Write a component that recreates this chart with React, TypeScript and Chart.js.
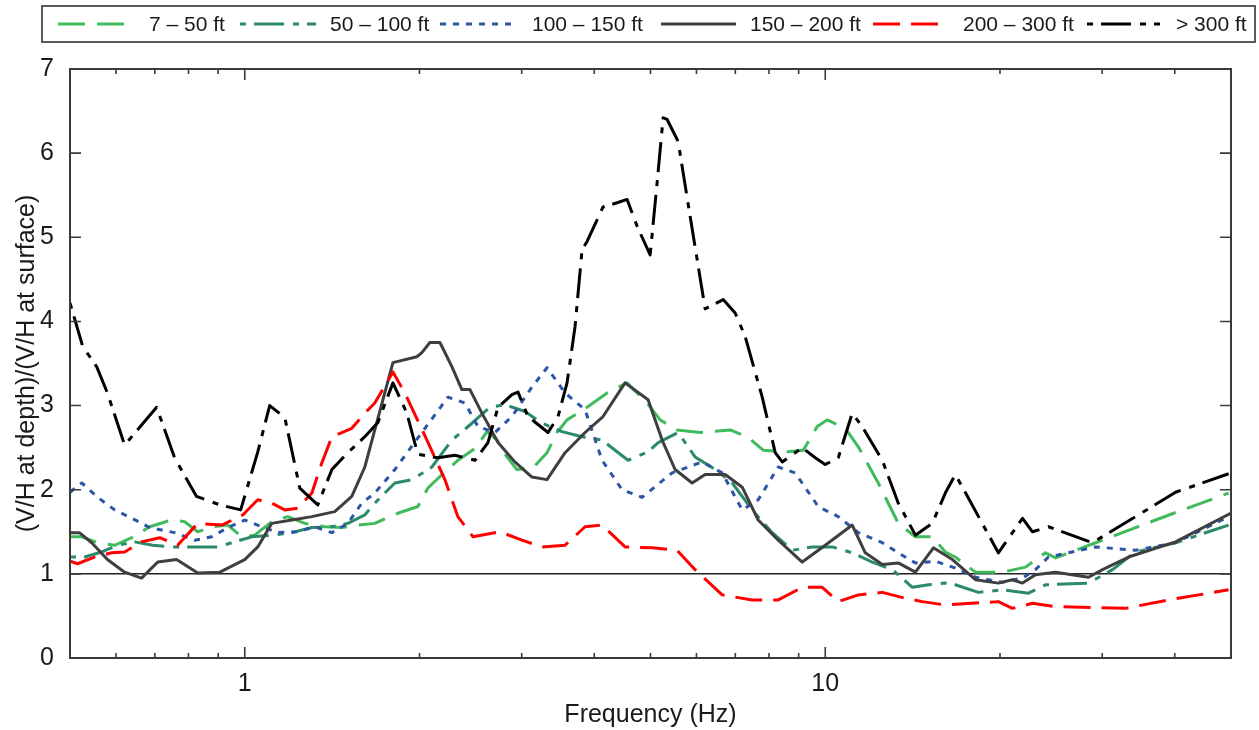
import React, { useEffect, useRef } from "react";
import { Chart, registerables } from "chart.js";

Chart.register(...registerables);

const FONT = "'Liberation Sans', Arial, Helvetica, sans-serif";

const SERIES_LABELS = ["7 – 50 ft", "50 – 100 ft", "100 – 150 ft", "150 – 200 ft", "200 – 300 ft", "> 300 ft"];

const GREEN_F = [0.5, 0.524, 0.558, 0.597, 0.639, 0.686, 0.748, 0.788, 0.83, 0.877, 0.935, 0.988, 1.04, 1.113, 1.186, 1.269, 1.374, 1.47, 1.566, 1.675, 1.835, 1.987, 2.068, 2.186, 2.329, 2.493, 2.614, 2.72, 2.829, 2.944, 3.138, 3.317, 3.451, 3.591, 3.888, 4.209, 4.557, 4.933, 5.195, 5.556, 6.088, 6.859, 7.336, 7.818, 8.601, 9.165, 9.688, 10.08, 10.83, 11.4, 12.34, 13.36, 14.3, 15.29, 16.1, 16.75, 18.14, 20.19, 22.13, 23.95, 24.93, 29.22, 34.24, 41.26, 49.53];
const GREEN_V = [1.44, 1.44, 1.37, 1.34, 1.43, 1.56, 1.64, 1.62, 1.5, 1.56, 1.58, 1.44, 1.46, 1.62, 1.68, 1.6, 1.56, 1.55, 1.58, 1.6, 1.72, 1.8, 2.02, 2.18, 2.35, 2.49, 2.69, 2.59, 2.39, 2.24, 2.26, 2.44, 2.68, 2.83, 2.98, 3.15, 3.27, 3.03, 2.83, 2.71, 2.68, 2.71, 2.63, 2.47, 2.45, 2.47, 2.75, 2.83, 2.73, 2.51, 2.08, 1.6, 1.44, 1.44, 1.26, 1.2, 1.02, 1.02, 1.08, 1.25, 1.19, 1.37, 1.55, 1.76, 1.96];

const TEAL_F = [0.5, 0.53, 0.567, 0.604, 0.646, 0.694, 0.757, 0.83, 0.898, 0.961, 1.028, 1.113, 1.205, 1.305, 1.413, 1.505, 1.61, 1.675, 1.814, 1.941, 2.101, 2.275, 2.463, 2.645, 2.808, 3.039, 3.252, 3.521, 3.811, 4.126, 4.574, 4.953, 5.154, 5.579, 5.968, 6.462, 6.915, 7.484, 8.101, 8.773, 9.497, 10.28, 11.13, 12.05, 13.05, 14.13, 15.06, 16.1, 16.75, 18.36, 20.19, 22.39, 23.95, 28.41, 31.25, 34.24, 40.13, 49.53];
const TEAL_V = [1.2, 1.2, 1.26, 1.34, 1.38, 1.34, 1.32, 1.32, 1.32, 1.38, 1.44, 1.46, 1.49, 1.55, 1.56, 1.6, 1.7, 1.84, 2.08, 2.12, 2.27, 2.59, 2.79, 2.98, 3.01, 2.93, 2.79, 2.69, 2.63, 2.59, 2.35, 2.45, 2.56, 2.68, 2.39, 2.24, 2.08, 1.76, 1.49, 1.28, 1.32, 1.32, 1.25, 1.14, 1.05, 0.84, 0.87, 0.89, 0.87, 0.78, 0.81, 0.77, 0.87, 0.89, 1.05, 1.26, 1.37, 1.58];

const BLUE_F = [0.5, 0.524, 0.558, 0.597, 0.639, 0.686, 0.757, 0.82, 0.877, 0.935, 1.0, 1.07, 1.14, 1.234, 1.32, 1.413, 1.505, 1.591, 1.675, 1.814, 2.019, 2.239, 2.395, 2.522, 2.698, 2.886, 3.124, 3.317, 3.563, 3.857, 4.126, 4.467, 4.836, 5.448, 6.137, 6.644, 7.194, 7.665, 8.299, 8.877, 9.725, 10.53, 11.4, 12.54, 13.58, 14.3, 15.48, 16.75, 18.14, 20.19, 21.87, 23.02, 24.24, 29.22, 34.24, 40.13, 49.53];
const BLUE_V = [1.97, 2.08, 1.91, 1.76, 1.66, 1.55, 1.49, 1.4, 1.44, 1.55, 1.64, 1.56, 1.49, 1.5, 1.56, 1.49, 1.6, 1.84, 1.96, 2.24, 2.68, 3.1, 3.03, 2.75, 2.68, 2.87, 3.22, 3.45, 3.15, 2.95, 2.35, 2.0, 1.91, 2.2, 2.33, 2.2, 1.76, 1.88, 2.27, 2.2, 1.8, 1.68, 1.49, 1.37, 1.22, 1.13, 1.15, 1.07, 0.96, 0.9, 0.95, 1.05, 1.2, 1.32, 1.28, 1.37, 1.68];

const GRAY_F = [0.5, 0.519, 0.545, 0.58, 0.621, 0.664, 0.708, 0.763, 0.83, 0.906, 1.0, 1.053, 1.113, 1.205, 1.305, 1.429, 1.529, 1.61, 1.675, 1.8, 1.979, 2.019, 2.084, 2.169, 2.275, 2.366, 2.443, 2.562, 2.731, 2.92, 3.124, 3.317, 3.563, 3.857, 4.142, 4.52, 4.953, 5.236, 5.512, 5.898, 6.21, 6.724, 7.194, 7.665, 8.299, 9.127, 10.0, 11.13, 11.72, 12.54, 13.36, 14.3, 15.36, 16.56, 18.14, 19.87, 21.01, 21.87, 23.02, 24.93, 28.41, 30.04, 33.3, 40.13, 49.93];
const GRAY_V = [1.49, 1.49, 1.37, 1.17, 1.02, 0.95, 1.14, 1.17, 1.01, 1.02, 1.17, 1.32, 1.6, 1.64, 1.68, 1.74, 1.92, 2.27, 2.71, 3.51, 3.58, 3.63, 3.75, 3.75, 3.46, 3.19, 3.19, 2.91, 2.56, 2.33, 2.15, 2.12, 2.44, 2.68, 2.87, 3.27, 3.07, 2.59, 2.24, 2.08, 2.18, 2.18, 2.03, 1.64, 1.4, 1.14, 1.34, 1.58, 1.25, 1.11, 1.13, 1.02, 1.31, 1.17, 0.93, 0.89, 0.93, 0.89, 0.99, 1.02, 0.96, 1.05, 1.2, 1.38, 1.72];

const RED_F = [0.5, 0.515, 0.551, 0.59, 0.621, 0.664, 0.714, 0.766, 0.83, 0.913, 0.992, 1.053, 1.113, 1.172, 1.234, 1.305, 1.358, 1.413, 1.529, 1.61, 1.675, 1.8, 1.887, 2.06, 2.212, 2.329, 2.473, 2.752, 3.003, 3.252, 3.563, 3.857, 4.126, 4.52, 5.032, 5.556, 5.968, 6.644, 7.484, 8.299, 9.127, 9.881, 10.53, 11.4, 12.54, 13.74, 14.7, 16.1, 19.87, 21.01, 22.75, 24.93, 32.89, 39.03, 49.53];
const RED_V = [1.15, 1.12, 1.2, 1.25, 1.26, 1.38, 1.43, 1.34, 1.6, 1.58, 1.7, 1.88, 1.84, 1.76, 1.78, 1.96, 2.32, 2.63, 2.73, 2.91, 3.03, 3.4, 3.15, 2.59, 2.12, 1.68, 1.44, 1.5, 1.4, 1.32, 1.34, 1.56, 1.58, 1.32, 1.31, 1.28, 1.05, 0.75, 0.69, 0.69, 0.84, 0.84, 0.67, 0.75, 0.78, 0.71, 0.67, 0.63, 0.67, 0.59, 0.65, 0.61, 0.59, 0.69, 0.81];

const BLACK_F = [0.5, 0.526, 0.556, 0.58, 0.621, 0.705, 0.757, 0.826, 0.906, 0.984, 1.053, 1.104, 1.172, 1.244, 1.336, 1.413, 1.505, 1.61, 1.696, 1.8, 1.902, 1.987, 2.151, 2.302, 2.493, 2.624, 2.731, 2.886, 2.956, 3.075, 3.33, 3.465, 3.591, 3.707, 3.811, 3.888, 4.142, 4.38, 4.557, 4.742, 4.993, 5.133, 5.257, 5.341, 5.579, 5.851, 6.21, 6.67, 6.996, 7.279, 7.788, 8.2, 8.432, 9.127, 9.612, 10.0, 10.53, 11.13, 11.58, 12.54, 13.36, 14.3, 15.29, 16.1, 16.75, 17.23, 19.87, 21.87, 22.75, 24.24, 28.86, 34.24, 40.13, 49.53];
const BLACK_V = [4.22, 3.7, 3.46, 3.15, 2.53, 2.98, 2.38, 1.92, 1.82, 1.76, 2.45, 3.0, 2.86, 2.02, 1.82, 2.24, 2.44, 2.63, 2.8, 3.27, 2.91, 2.42, 2.38, 2.41, 2.35, 2.56, 2.98, 3.13, 3.16, 2.87, 2.68, 2.87, 3.27, 3.94, 4.85, 4.95, 5.36, 5.41, 5.45, 5.13, 4.79, 5.65, 6.42, 6.4, 6.14, 5.25, 4.15, 4.26, 4.1, 3.82, 3.1, 2.44, 2.33, 2.5, 2.38, 2.3, 2.38, 2.91, 2.75, 2.35, 1.84, 1.46, 1.6, 1.96, 2.18, 2.03, 1.25, 1.66, 1.5, 1.56, 1.37, 1.68, 1.97, 2.19];

const REF_F = [0.5, 50];
const REF_V = [1, 1];

const X_MAJOR = [1, 10];
const X_MINOR = [0.6, 0.7, 0.8, 0.9, 2, 3, 4, 5, 6, 7, 8, 9, 20, 30, 40];
const Y_TICKS = [1, 2, 3, 4, 5, 6];

// legend layout: [line start, line end, text x]
const LEGEND_POS = [
  [58, 124, 149],
  [240, 316, 330],
  [440, 518, 532],
  [661, 736, 750],
  [873, 940, 963],
  [1087, 1160, 1176],
];

function pts(f: number[], v: number[]) {
  const n = Math.min(f.length, v.length);
  const out: { x: number; y: number }[] = [];
  for (let i = 0; i < n; i++) out.push({ x: f[i], y: v[i] });
  return out;
}

const decorPlugin = {
  id: "decor",
  afterDatasetsDraw(chart: any) {
    const { ctx, chartArea: a, scales } = chart;
    const xs = scales.x;
    const ys = scales.y;
    ctx.save();
    ctx.setLineDash([]);
    ctx.strokeStyle = "#3a3a3a";
    ctx.lineWidth = 2;
    ctx.strokeRect(a.left, a.top, a.right - a.left, a.bottom - a.top);
    ctx.lineWidth = 1.6;
    ctx.beginPath();
    const xt = (v: number, len: number) => {
      const px = xs.getPixelForValue(v);
      ctx.moveTo(px, a.bottom);
      ctx.lineTo(px, a.bottom - len);
      ctx.moveTo(px, a.top);
      ctx.lineTo(px, a.top + len);
    };
    X_MINOR.forEach((v) => xt(v, 5));
    X_MAJOR.forEach((v) => xt(v, 11));
    Y_TICKS.forEach((v) => {
      const py = ys.getPixelForValue(v);
      ctx.moveTo(a.left, py);
      ctx.lineTo(a.left + 11, py);
      ctx.moveTo(a.right, py);
      ctx.lineTo(a.right - 11, py);
    });
    ctx.stroke();
    ctx.restore();
  },
  afterDraw(chart: any) {
    const { ctx } = chart;
    ctx.save();
    ctx.setLineDash([]);
    ctx.strokeStyle = "#333333";
    ctx.lineWidth = 1.6;
    ctx.strokeRect(42, 6, 1213, 36);
    const cy = 24;
    ctx.font = `21px ${FONT}`;
    ctx.textBaseline = "middle";
    ctx.textAlign = "left";
    chart.data.datasets.forEach((ds: any, i: number) => {
      const p = LEGEND_POS[i];
      if (!p) return;
      ctx.save();
      ctx.strokeStyle = ds.borderColor;
      ctx.lineWidth = ds.borderWidth;
      ctx.setLineDash(ds.borderDash || []);
      ctx.lineCap = "butt";
      ctx.beginPath();
      ctx.moveTo(p[0], cy);
      ctx.lineTo(p[1], cy);
      ctx.stroke();
      ctx.restore();
      ctx.fillStyle = "#1a1a1a";
      ctx.fillText(ds.label, p[2], cy + 1);
    });
    ctx.restore();
  },
};

export default function App() {
  const ref = useRef<HTMLCanvasElement>(null);
  useEffect(() => {
    document.body.style.margin = "0";
    const common = { fill: false, pointRadius: 0, borderWidth: 3, tension: 0, borderCapStyle: "butt", borderJoinStyle: "round" };
    const chart = new Chart(ref.current as HTMLCanvasElement, {
      type: "line",
      data: {
        datasets: [
          { ...common, label: SERIES_LABELS[0], data: pts(GREEN_F, GREEN_V), borderColor: "#3fbb5c", borderDash: [27, 12], order: 6 },
          { ...common, label: SERIES_LABELS[1], data: pts(TEAL_F, TEAL_V), borderColor: "#2a8a6b", borderDash: [6, 8, 30, 9], order: 5 },
          { ...common, label: SERIES_LABELS[2], data: pts(BLUE_F, BLUE_V), borderColor: "#2c55a3", borderDash: [6, 7], order: 4 },
          { ...common, label: SERIES_LABELS[3], data: pts(GRAY_F, GRAY_V), borderColor: "#3f3f3f", borderDash: [], order: 3 },
          { ...common, label: SERIES_LABELS[4], data: pts(RED_F, RED_V), borderColor: "#ff0000", borderDash: [27, 11], order: 2 },
          { ...common, label: SERIES_LABELS[5], data: pts(BLACK_F, BLACK_V), borderColor: "#000000", borderDash: [6, 8, 30, 9], order: 1 },
          { ...common, label: "ref", data: pts(REF_F, REF_V), borderColor: "#222222", borderWidth: 1.5, borderDash: [], order: 10 },
        ] as any,
      },
      options: {
        animation: false,
        responsive: false,
        devicePixelRatio: 1,
        layout: { padding: { left: 0, right: 28, top: 69, bottom: 0 } },
        plugins: { legend: { display: false }, tooltip: { enabled: false } },
        scales: {
          x: {
            type: "logarithmic",
            min: 0.5,
            max: 50,
            grid: { display: false },
            border: { display: false },
            afterBuildTicks: (s: any) => {
              s.ticks = X_MAJOR.map((v) => ({ value: v }));
            },
            afterFit: (s: any) => {
              s.height = 72;
            },
            ticks: {
              autoSkip: false,
              maxRotation: 0,
              padding: 3,
              color: "#1a1a1a",
              font: { family: FONT, size: 25 },
              callback: (v: any) => String(v),
            },
            title: {
              display: true,
              text: "Frequency (Hz)",
              color: "#1a1a1a",
              font: { family: FONT, size: 25 },
              padding: { top: 0, bottom: 0 },
            },
          },
          y: {
            min: 0,
            max: 7,
            grid: { display: false },
            border: { display: false },
            afterFit: (s: any) => {
              s.width = 70;
            },
            ticks: {
              stepSize: 1,
              padding: 8,
              color: "#1a1a1a",
              font: { family: FONT, size: 25 },
            },
            title: {
              display: true,
              text: "(V/H at depth)/(V/H at surface)",
              color: "#1a1a1a",
              font: { family: FONT, size: 25 },
              padding: { top: 12, bottom: 0 },
            },
          },
        },
      } as any,
      plugins: [decorPlugin],
    });
    return () => chart.destroy();
  }, []);
  return (
    <div style={{ width: 1259, height: 730 }}>
      <canvas ref={ref} width={1259} height={730} style={{ display: "block" }} />
    </div>
  );
}
